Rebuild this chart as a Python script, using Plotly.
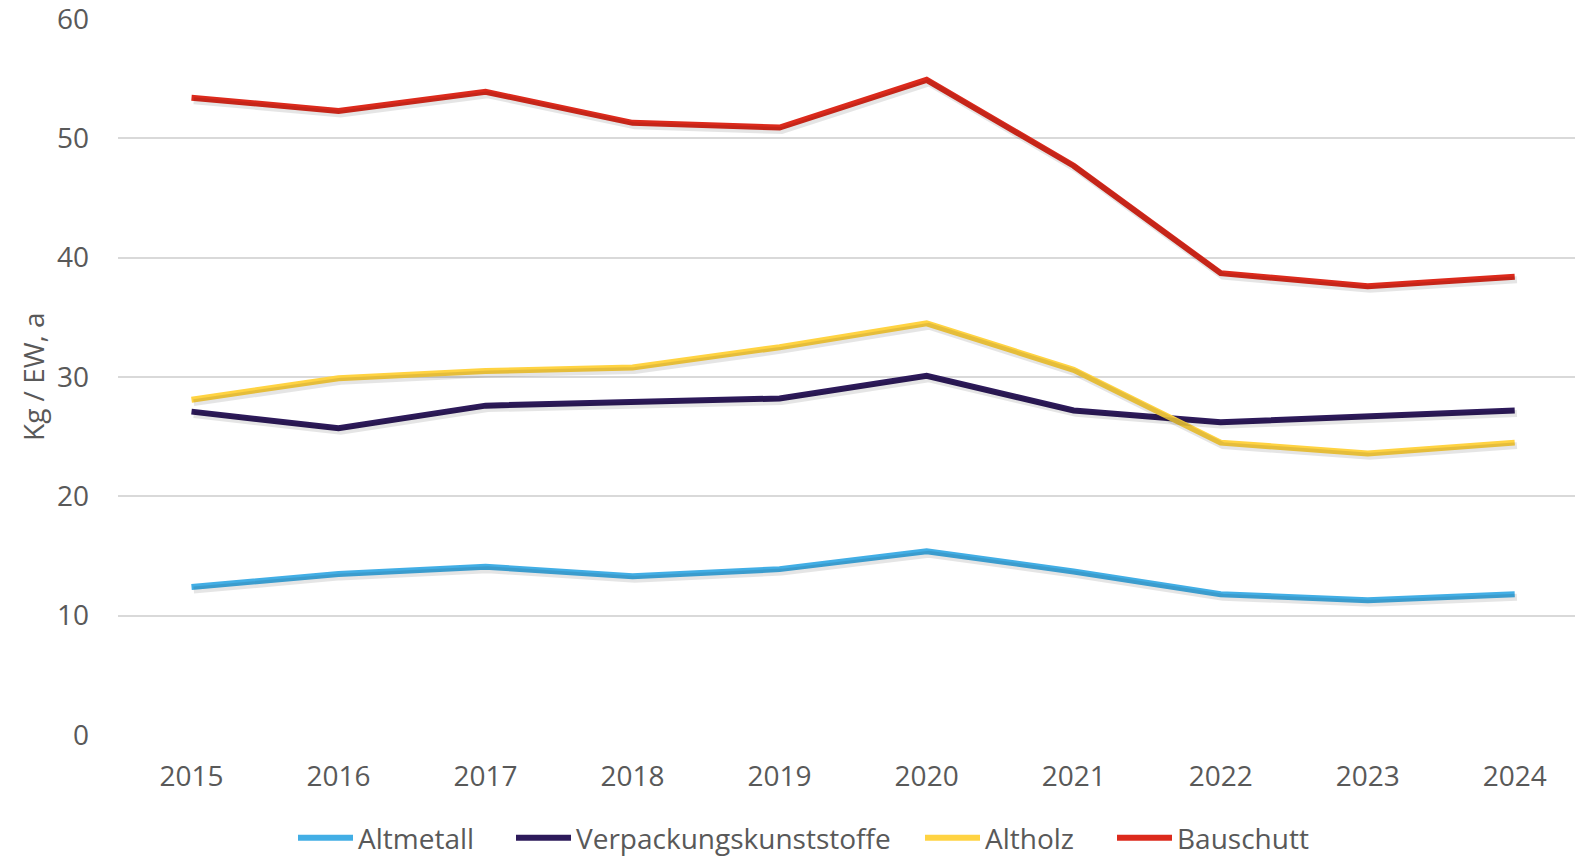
import plotly.graph_objects as go

years = ["2015", "2016", "2017", "2018", "2019", "2020", "2021", "2022", "2023", "2024"]
altmetall = [12.4, 13.5, 14.1, 13.3, 13.9, 15.4, 13.7, 11.8, 11.3, 11.8]
verpackung = [27.1, 25.7, 27.6, 27.9, 28.2, 30.1, 27.2, 26.2, 26.7, 27.2]
altholz = [28.1, 29.9, 30.5, 30.8, 32.5, 34.5, 30.6, 24.5, 23.6, 24.5]
bauschutt = [53.4, 52.3, 53.9, 51.3, 50.9, 54.9, 47.7, 38.7, 37.6, 38.4]
y_title = "Kg / EW, a"

series = [
    ("Altmetall", altmetall, "#42AEE5"),
    ("Verpackungskunststoffe", verpackung, "#2D1A5A"),
    ("Altholz", altholz, "#FFD342"),
    ("Bauschutt", bauschutt, "#DC2A1C"),
]

FONT = "Open Sans"
TXT = "#595959"
FS = 28
L, T, W, H = 118, 19, 1457, 716

fig = go.Figure()
# soft shadows (same data, drawn on an overlaid, slightly shifted axis pair)
for name, vals, col in series:
    fig.add_trace(go.Scatter(x=list(range(len(years))), y=vals, mode="lines",
                             line=dict(color="rgba(0,0,0,0.10)", width=7),
                             xaxis="x2", yaxis="y2", showlegend=False, hoverinfo="skip"))
legend_names = ["legend", "legend2", "legend3", "legend4"]
for (name, vals, col), lg in zip(series, legend_names):
    fig.add_trace(go.Scatter(x=list(range(len(years))), y=vals, mode="lines", name=name,
                             line=dict(color=col, width=6), legend=lg))

legend_left_px = [293, 511, 920, 1112]
legends = {}
for lg, px in zip(legend_names, legend_left_px):
    legends[lg] = dict(orientation="h", x=(px - L) / W, xanchor="left",
                       y=(T + H - 838) / H, yanchor="middle", itemwidth=55,
                       font=dict(size=FS, color=TXT), bgcolor="rgba(0,0,0,0)")

xr = [-0.5, 9.41]
yr = [0, 60]
fig.update_layout(
    width=1575, height=859,
    margin=dict(l=L, r=0, t=T, b=859 - T - H, autoexpand=False),
    paper_bgcolor="white", plot_bgcolor="white",
    font=dict(family=FONT, color=TXT, size=FS),
    xaxis=dict(range=xr, tickmode="array", tickvals=list(range(len(years))), ticktext=years,
               showgrid=False, zeroline=False, showline=False, ticks="", automargin=False,
               ticklabelstandoff=22, ticklabeloverflow="allow",
               tickfont=dict(size=FS, color=TXT)),
    yaxis=dict(range=yr, tickvals=[0, 10, 20, 30, 40, 50, 60], showgrid=True,
               gridcolor="#D9D9D9", gridwidth=1.5, zeroline=False, showline=False,
               ticks="", ticklabelstandoff=28, automargin=False, ticklabeloverflow="allow",
               tickfont=dict(size=FS, color=TXT)),
    xaxis2=dict(range=[xr[0] - 0.015, xr[1] - 0.015], overlaying="x", visible=False),
    yaxis2=dict(range=[yr[0] + 0.25, yr[1] + 0.25], overlaying="y", visible=False),
    annotations=[dict(text=y_title, xref="paper", yref="paper",
                      x=(33 - L) / W, y=(T + H - 377) / H, xanchor="center", yanchor="middle",
                      textangle=-90, showarrow=False, font=dict(size=FS, color=TXT))],
    showlegend=True,
    **legends,
)

fig.write_html("out.html", config={"displayModeBar": False},
               post_script="document.body.style.margin='0';document.body.style.overflow='hidden';")
